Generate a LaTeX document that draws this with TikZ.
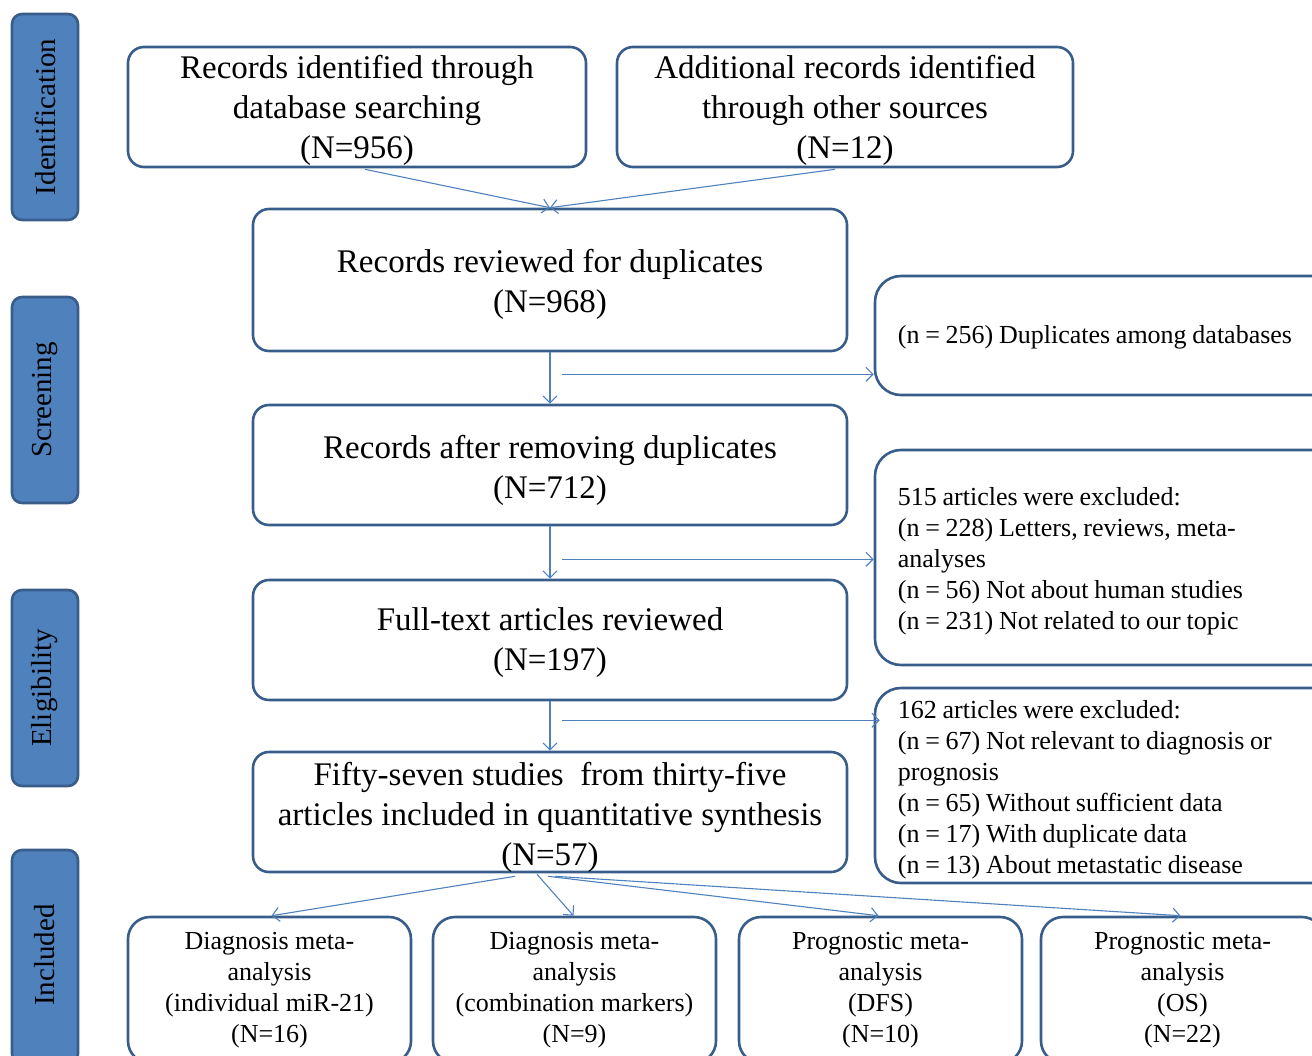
\documentclass[tikz,border=0pt]{standalone}
\usepackage{fontspec}
\setmainfont{Liberation Serif}
\usetikzlibrary{arrows.meta,calc}
\definecolor{boxc}{RGB}{56,93,138}
\definecolor{barc}{RGB}{79,129,189}
\definecolor{arrc}{RGB}{79,129,189}
\newcommand{\tightspaces}{\spaceskip=0.22em plus 0.05em\relax}
\tikzset{
  mainbox/.style={draw=boxc, line width=2.6pt, rounded corners=16pt, inner sep=0pt},
  maintext/.style={inner sep=0pt, align=center, font=\fontsize{33}{40}\selectfont},
  sidebox/.style={draw=boxc, line width=2.6pt, rounded corners=26pt, inner sep=0pt, minimum width=470pt},
  sidetext/.style={inner sep=0pt, anchor=west, align=left,
    font=\fontsize{26}{31}\selectfont, execute at begin node=\tightspaces},
  outbox/.style={draw=boxc, line width=2.6pt, rounded corners=22pt, inner sep=0pt, align=center,
    minimum width=283pt, minimum height=146pt, font=\fontsize{26}{31}\selectfont},
  phase/.style={draw=boxc, fill=barc, line width=2.6pt, rounded corners=10pt, minimum width=66pt,
    inner sep=0pt},
  phasetext/.style={rotate=90, font=\fontsize{29}{32}\selectfont, inner sep=0pt},
  arr/.style={draw=arrc, line width=1.1pt, -{Straight Barb[length=7pt,width=14pt]}},
}
\begin{document}
\begin{tikzpicture}[x=1pt,y=-1pt]
\path[use as bounding box, clip] (0,0) rectangle (1312,1055);
% phase bars
\node[phase, minimum height=206pt] (p1) at (45,117) {};
\node[phasetext] (p1t) at (p1.center) {Identification};
\node[phase, minimum height=206pt] (p2) at (45,400) {};
\node[phasetext] (p2t) at (p2.center) {Screening};
\node[phase, minimum height=196pt] (p3) at (45,688) {};
\node[phasetext] (p3t) at (p3.center) {Eligibility};
\node[phase, minimum height=214pt] (p4) at (45,957) {};
\node[phasetext] (p4t) at (45,955) {Included};
% main boxes
\node[mainbox, minimum width=458pt, minimum height=120pt] (A) at (357,107) {};
\node[maintext] (At) at ($(A.center)+(0,3)$) {Records identified through\\database searching\\(N=956)};
\node[mainbox, minimum width=456pt, minimum height=120pt] (B) at (845,107) {};
\node[maintext] (Bt) at ($(B.center)+(0,3)$) {Additional records identified\\through other sources\\(N=12)};
\node[mainbox, minimum width=594pt, minimum height=142pt] (C) at (550,280) {};
\node[maintext] (Ct) at ($(C.center)+(0,4)$) {Records reviewed for duplicates\\(N=968)};
\node[mainbox, minimum width=594pt, minimum height=120pt] (E) at (550,465) {};
\node[maintext] (Et) at ($(E.center)+(0,5)$) {Records after removing duplicates\\(N=712)};
\node[mainbox, minimum width=594pt, minimum height=120pt] (G) at (550,640) {};
\node[maintext] (Gt) at ($(G.center)+(0,3)$) {Full-text articles reviewed\\(N=197)};
\node[mainbox, minimum width=594pt, minimum height=120pt] (I) at (550,812) {};
\node[maintext] (It) at ($(I.center)+(0,5)$) {Fifty-seven studies\ \ from thirty-five\\articles included in quantitative synthesis\\(N=57)};
% side boxes
\node[sidebox, minimum height=119pt] (D) at (1110,335.5) {};
\node[sidetext] (Dt) at ($(D.west)+(24,2)$) {(n = 256) Duplicates among databases};
\node[sidebox, minimum height=215pt] (F) at (1110,557.5) {};
\node[sidetext] (Ft) at ($(F.west)+(24,4)$)
  {515 articles were excluded:\\(n = 228) Letters, reviews, meta-\\analyses\\(n = 56) Not about human studies\\(n = 231) Not related to our topic};
\node[sidebox, minimum height=195pt] (H) at (1110,785.5) {};
\node[sidetext] (Ht) at ($(H.west)+(24,4)$)
  {162 articles were excluded:\\(n = 67) Not relevant to diagnosis or\\prognosis\\(n = 65) Without sufficient data\\(n = 17) With duplicate data\\(n = 13) About metastatic disease};
% output boxes
\node[outbox] (J1) at (269.5,990) {Diagnosis meta-\\analysis\\(individual miR-21)\\(N=16)};
\node[outbox] (J2) at (574.5,990) {Diagnosis meta-\\analysis\\(combination markers)\\(N=9)};
\node[outbox] (J3) at (880.5,990) {Prognostic meta-\\analysis\\(DFS)\\(N=10)};
\node[outbox] (J4) at (1182.5,990) {Prognostic meta-\\analysis\\(OS)\\(N=22)};
% connectors
\draw[arr] ($(A.south)+(8,1)$) -- (C.north);
\draw[arr] ($(B.south)+(-10,1)$) -- (C.north);
\draw[arr] (C.south) -- (E.north);
\draw[arr] (E.south) -- (G.north);
\draw[arr] (G.south) -- (I.north);
\coordinate (s1) at ($(C.south)+(12,22)$);
\coordinate (s2) at ($(E.south)+(12,33)$);
\coordinate (s3) at ($(G.south)+(12,19)$);
\draw[arr] (s1) -- (s1 -| D.west);
\draw[arr] (s2) -- (s2 -| F.west);
\draw[arr] (s3) -- ($(s3 -| H.west)+(6,0)$);
\draw[arr] ($(I.south)+(-35,3)$) -- ($(J1.north)+(2,0)$);
\draw[arr] ($(I.south)+(-13,1)$) -- ($(J2.north)+(-1,0)$);
\draw[arr] ($(I.south)+(-2,3)$) -- ($(J3.north)+(-2,0)$);
\draw[arr] ($(I.south)+(5,3)$) -- ($(J4.north)+(-2,0)$);
\end{tikzpicture}
\end{document}
